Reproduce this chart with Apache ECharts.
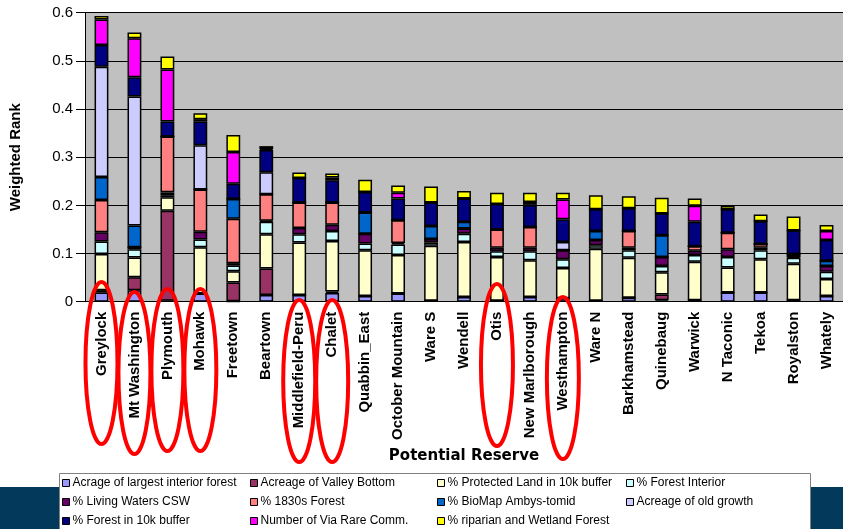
<!DOCTYPE html>
<html>
<head>
<meta charset="utf-8">
<script src="https://cdn.jsdelivr.net/npm/echarts@6/dist/echarts.min.js"></script>
<style>
  html, body { margin: 0; padding: 0; background: #fff; }
  #main { width: 843px; height: 529px; }
</style>
</head>
<body>
<div id="main"></div>
<script>
// 数据
var categories = ['Greylock', 'Mt Washington', 'Plymouth', 'Mohawk', 'Freetown', 'Beartown',
  'Middlefield-Peru', 'Chalet', 'Quabbin_East', 'October Mountain', 'Ware S', 'Wendell', 'Otis',
  'New Marlborough', 'Westhampton', 'Ware N', 'Barkhamstead', 'Quinebaug', 'Warwick',
  'N Taconic', 'Tekoa', 'Royalston', 'Whately'];

var largestInterior = [0.019, 0.024, 0.002, 0.017, 0.001, 0.014, 0.014, 0.018, 0.012, 0.017, 0.002, 0.010, 0.002, 0.010, 0.007, 0.002, 0.008, 0.003, 0.003, 0.019, 0.019, 0.003, 0.012];
var valleyBottom    = [0.005, 0.027, 0.187, 0, 0.039, 0.055, 0, 0.003, 0, 0, 0, 0, 0, 0, 0, 0, 0, 0.012, 0, 0, 0, 0, 0];
var protectedLand   = [0.075, 0.041, 0.028, 0.096, 0.023, 0.071, 0.109, 0.105, 0.095, 0.080, 0.114, 0.114, 0.091, 0.076, 0.063, 0.108, 0.083, 0.046, 0.080, 0.052, 0.069, 0.076, 0.035];
var forestInterior  = [0.026, 0.017, 0.004, 0.016, 0.012, 0.026, 0.017, 0.021, 0.014, 0.022, 0.007, 0.017, 0.012, 0.019, 0.018, 0.007, 0.016, 0.013, 0.014, 0.022, 0.019, 0.012, 0.015];
var livingWaters    = [0.019, 0.004, 0.006, 0.016, 0.005, 0.002, 0.013, 0.013, 0.020, 0.003, 0.007, 0.011, 0.007, 0.007, 0.019, 0.011, 0.005, 0.019, 0.009, 0.016, 0.005, 0.003, 0.012];
var forest1830      = [0.067, 0, 0.116, 0.088, 0.092, 0.055, 0.053, 0.046, 0, 0.047, 0, 0, 0.038, 0.043, 0, 0, 0.035, 0, 0.009, 0.034, 0.008, 0, 0];
var bioMap          = [0.048, 0.045, 0, 0, 0.041, 0, 0, 0, 0.044, 0, 0.027, 0.014, 0, 0, 0, 0.019, 0, 0.045, 0, 0, 0, 0.005, 0.011];
var oldGrowth       = [0.229, 0.268, 0, 0.092, 0, 0.046, 0, 0, 0, 0, 0, 0, 0, 0, 0.017, 0, 0, 0, 0, 0, 0, 0, 0];
var forest10k       = [0.045, 0.040, 0.031, 0.049, 0.032, 0.046, 0.051, 0.046, 0.043, 0.045, 0.049, 0.048, 0.053, 0.046, 0.047, 0.045, 0.047, 0.045, 0.051, 0.049, 0.047, 0.049, 0.043];
var viaRare         = [0.053, 0.081, 0.108, 0.005, 0.066, 0.002, 0, 0.006, 0, 0.012, 0, 0, 0, 0.006, 0.041, 0, 0, 0, 0.033, 0, 0, 0, 0.019];
var riparian        = [0.007, 0.012, 0.027, 0.012, 0.035, 0.006, 0.011, 0.008, 0.025, 0.015, 0.033, 0.016, 0.023, 0.019, 0.014, 0.029, 0.025, 0.033, 0.015, 0.007, 0.014, 0.029, 0.012];

var circled = ['Greylock', 'Mt Washington', 'Plymouth', 'Mohawk', 'Middlefield-Peru', 'Chalet', 'Otis', 'Westhampton'];

var seriesDefs = [
  { name: 'Acrage of largest interior forest', data: largestInterior, color: '#9999FF' },
  { name: 'Acreage of Valley Bottom', data: valleyBottom, color: '#993366' },
  { name: '% Protected Land in 10k buffer', data: protectedLand, color: '#FFFFCC' },
  { name: '% Forest Interior', data: forestInterior, color: '#CCFFFF' },
  { name: '% Living Waters CSW', data: livingWaters, color: '#660066' },
  { name: '% 1830s Forest', data: forest1830, color: '#FF8080' },
  { name: '% BioMap Ambys-tomid', data: bioMap, color: '#0066CC' },
  { name: 'Acreage of old growth', data: oldGrowth, color: '#CCCCFF' },
  { name: '% Forest in 10k buffer', data: forest10k, color: '#000080' },
  { name: 'Number of Via Rare Comm.', data: viaRare, color: '#FF00FF' },
  { name: '% riparian and Wetland Forest', data: riparian, color: '#FFFF00' }
];

var font = 'Arial, "Liberation Sans", sans-serif';

// 图例分四列
var legendCols = [
  { left: 62, names: [0, 4, 8] },
  { left: 250, names: [1, 5, 9] },
  { left: 437, names: [2, 6, 10] },
  { left: 626, names: [3, 7] }
];

var myChart = echarts.init(document.getElementById('main'));

var baseGraphic = [
  { type: 'rect', z: 0, silent: true, shape: { x: 0, y: 487, width: 843, height: 42 }, style: { fill: '#033a5c' } },
  { type: 'rect', z: 1, silent: true, shape: { x: 59.5, y: 473.5, width: 751, height: 70 }, style: { fill: '#fff', stroke: '#808080', lineWidth: 1 } }
];

myChart.setOption({
  animation: false,
  color: seriesDefs.map(function (s) { return s.color; }),
  grid: {
    left: 82, right: -7, top: 12.7, bottom: 227.3,
    show: true, backgroundColor: '#C0C0C0', borderWidth: 0
  },
  legend: legendCols.map(function (c) {
    return {
      orient: 'vertical',
      left: c.left,
      top: 477,
      padding: 0,
      itemGap: 7,
      itemWidth: 7,
      itemHeight: 7,
      icon: 'rect',
      selectedMode: false,
      z: 10,
      itemStyle: { borderColor: '#000', borderWidth: 1 },
      textStyle: { fontFamily: font, fontSize: 12, lineHeight: 12, color: '#000', padding: [0, 0, 0, -2] },
      data: c.names.map(function (i) { return seriesDefs[i].name; })
    };
  }),
  xAxis: {
    type: 'category',
    data: categories,
    name: 'Potential Reserve',
    nameLocation: 'middle',
    nameGap: 147,
    nameTextStyle: { fontFamily: '"DejaVu Sans", Arial, sans-serif', fontSize: 15, fontWeight: 'bold', color: '#000' },
    axisLine: { lineStyle: { color: '#000', width: 1 } },
    axisTick: { length: 6, lineStyle: { color: '#000' } },
    axisLabel: {
      interval: 0, rotate: 90, margin: 10,
      fontFamily: font, fontSize: 15, fontWeight: 'bold', color: '#000'
    },
    splitLine: { show: false }
  },
  yAxis: {
    type: 'value',
    min: 0, max: 0.6, interval: 0.1,
    name: 'Weighted Rank',
    nameLocation: 'middle',
    nameGap: 62,
    nameTextStyle: { fontFamily: font, fontSize: 15, fontWeight: 'bold', color: '#000' },
    axisLine: { show: true, lineStyle: { color: '#000', width: 1 } },
    axisTick: { show: true, length: 9, lineStyle: { color: '#000' } },
    axisLabel: { fontFamily: font, fontSize: 15, color: '#000', margin: 12 },
    splitLine: { lineStyle: { color: '#000', width: 1 } }
  },
  series: seriesDefs.map(function (s) {
    return {
      name: s.name,
      type: 'bar',
      stack: 'total',
      barWidth: '42%',
      data: s.data,
      itemStyle: { color: s.color, borderColor: '#000', borderWidth: 1.5 }
    };
  }),
  graphic: baseGraphic
});

// 红色椭圆标注
var ellipseTop = [280, 290, 287, 287, 298, 298, 282, 295];
var ellipses = circled.map(function (name, i) {
  var cx = myChart.convertToPixel({ xAxisIndex: 0 }, name);
  return {
    type: 'ellipse', z: 100, silent: true,
    shape: { cx: cx, cy: ellipseTop[i] + 83, rx: 16, ry: 81 },
    style: { fill: 'none', stroke: '#FF0000', lineWidth: 4 }
  };
});
myChart.setOption({ graphic: baseGraphic.concat(ellipses) });
</script>
</body>
</html>
